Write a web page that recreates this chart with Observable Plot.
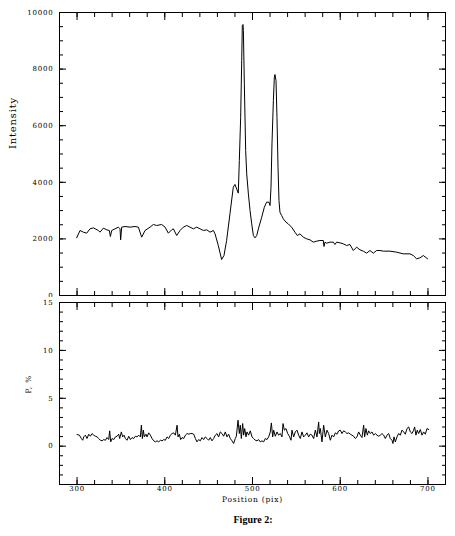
<!DOCTYPE html>
<html>
<head>
<meta charset="utf-8">
<script src="https://cdn.jsdelivr.net/npm/d3@7"></script>
<script src="https://cdn.jsdelivr.net/npm/@observablehq/plot@0.6"></script>
<style>
  body { margin: 0; background: #fff; }
  #wrap { position: relative; width: 455px; height: 536px; background: #fff; overflow: hidden; }
  #top, #bot { position: absolute; left: 0; }
  #top { top: 0; }
  #bot { top: 297px; }
  #cap { position: absolute; top: 514px; left: 203px; width: 100px; text-align: center;
         font-family: "Liberation Serif", "DejaVu Serif", serif; font-weight: bold; font-size: 10px; color: #000; }
  svg text { letter-spacing: 0.8px; }
</style>
</head>
<body>
<div id="wrap">
  <div id="top"></div>
  <div id="bot"></div>
  <div id="cap">Figure 2:</div>
</div>
<script>
// ---- data: upper panel (Intensity vs Position) ----
const intensityPos = [
  299.6,303.4,307.2,311.0,314.8,318.6,324.3,326.2,330.0,333.8,
  336.8,338.0,339.5,343.3,347.1,349.0,349.7,350.9,354.7,360.4,
  366.1,369.9,373.7,377.5,383.2,387.0,390.8,396.5,400.3,404.1,
  407.9,409.8,413.6,417.4,421.2,425.0,428.8,432.6,436.4,440.2,
  444.0,447.8,451.6,455.4,457.3,461.0,464.8,467.5,470.5,474.3,
  478.1,480.0,483.8,485.0,486.5,487.7,488.4,489.2,489.6,490.7,
  492.2,493.4,495.3,497.2,499.1,501.0,502.9,504.8,506.7,510.5,
  513.5,516.0,518.8,520.0,521.1,522.2,523.8,524.9,525.6,526.8,
  527.9,529.1,530.2,531.3,533.2,535.1,538.2,540.8,544.6,548.4,
  551.1,554.1,557.9,561.7,565.5,569.3,573.1,576.9,580.7,581.5,
  582.6,584.5,588.3,592.1,594.0,595.9,599.7,603.5,607.3,611.1,
  614.9,618.7,622.5,626.3,630.1,633.9,637.7,641.5,645.3,649.1,
  656.7,664.3,671.9,679.5,683.3,687.1,690.9,694.7,699.6
];
const intensity = [
  2038,2297,2238,2203,2356,2391,2297,2238,2380,2321,
  2297,2085,2297,2356,2415,2356,1967,2415,2438,2415,
  2438,2415,2061,2297,2415,2509,2474,2509,2415,2203,
  2321,2356,2120,2297,2415,2474,2415,2356,2415,2356,
  2297,2321,2238,2297,2179,1767,1272,1414,1944,2886,
  3828,3923,3616,4770,6301,8304,9541,9576,9364,7479,
  5123,4298,3592,3003,2531,2119,2037,2119,2355,2767,
  3120,3297,3297,3179,3827,5359,6890,7715,7809,7597,
  6301,4534,3356,2944,2826,2708,2590,2531,2413,2237,
  2119,2179,2061,2002,1967,1885,1920,1944,1944,1732,
  1885,1849,1885,1885,1802,1885,1861,1826,1767,1802,
  1590,1708,1614,1567,1496,1590,1496,1590,1590,1567,
  1567,1531,1472,1472,1413,1296,1331,1413,1296
];

// ---- data: lower panel (P, % vs Position) ----
const polPos = [
  300.0,302.7,304.9,306.5,307.6,309.5,311.4,313.3,315.2,317.1,
  319.0,320.9,322.8,324.7,326.6,328.5,330.4,332.3,334.2,336.1,
  337.2,338.4,339.9,341.8,343.7,345.6,347.5,348.6,350.5,352.0,
  353.6,355.1,357.0,358.9,360.8,362.7,364.6,366.5,368.4,370.3,
  372.2,373.3,374.5,375.6,376.7,378.6,379.8,381.7,383.6,385.5,
  387.4,389.3,391.2,393.1,395.0,396.9,398.8,400.7,402.6,404.5,
  406.4,408.3,410.2,412.1,414.0,415.1,416.6,418.1,419.7,421.6,
  423.5,425.4,427.3,429.2,
  431.1,433.0,434.9,436.7,438.6,440.5,442.4,444.3,446.2,448.1,
  450.0,451.9,453.8,455.7,457.6,459.5,461.4,463.3,465.2,467.1,
  469.0,470.9,472.8,474.7,476.6,478.5,480.4,481.6,483.5,485.0,
  486.1,487.3,488.8,489.9,491.1,492.6,493.7,495.6,497.5,499.4,
  501.3,503.2,505.1,507.0,508.9,510.8,512.7,514.6,516.5,518.4,
  520.3,521.5,523.0,524.1,526.0,527.9,529.8,531.7,533.6,534.8,
  536.3,538.2,540.1,542.0,543.9,545.0,546.9,548.8,550.7,552.6,
  554.5,556.4,558.3,560.2,562.1,564.0,565.9,567.8,
  569.7,571.6,573.5,575.4,576.2,577.3,579.2,581.1,583.0,584.9,
  586.8,588.7,590.6,592.5,594.4,596.3,598.2,600.1,602.0,603.9,
  605.8,607.7,609.6,611.5,613.4,615.3,617.2,619.1,621.0,622.9,
  624.8,626.7,627.8,629.3,630.9,632.4,634.3,636.2,638.1,640.0,
  641.9,643.8,645.7,647.6,649.5,651.4,653.3,655.2,657.1,659.0,
  660.1,661.3,662.8,664.7,666.6,668.5,670.4,672.3,674.2,676.1,
  678.0,679.9,681.8,683.7,684.8,686.3,687.8,689.4,691.3,693.2,
  695.1,697.0,698.9,700.8
];
const pol = [
  1.22,1.15,0.80,0.62,0.97,1.15,0.80,1.25,1.04,1.32,
  1.15,1.04,0.97,0.80,0.62,0.56,0.69,0.62,0.90,0.69,
  1.60,0.45,0.80,0.69,0.97,1.04,1.25,0.80,1.49,0.97,
  1.15,0.80,0.62,1.04,0.69,0.90,0.80,1.04,0.97,1.15,
  0.97,2.19,0.80,1.67,0.97,1.25,0.97,1.39,1.15,0.80,
  0.56,0.45,0.56,0.45,0.62,0.56,0.69,0.62,0.97,0.80,
  1.15,1.32,1.39,1.15,2.19,0.97,1.25,0.69,0.90,0.80,
  1.15,1.32,1.25,1.32,
  1.32,1.25,0.80,0.45,0.69,0.56,0.90,0.69,0.97,0.80,
  0.62,0.90,0.56,0.80,1.15,1.32,0.97,1.49,1.32,1.04,
  1.49,0.97,1.25,0.80,0.56,0.28,0.80,1.04,2.71,1.32,
  2.19,0.80,2.36,1.15,1.84,0.97,1.49,1.15,1.60,0.97,
  0.80,0.62,0.56,0.69,0.45,0.56,0.45,0.80,0.69,0.97,
  1.49,2.43,0.97,1.67,1.04,1.49,1.15,1.32,0.97,2.36,
  1.67,1.84,1.32,1.04,0.62,1.67,0.97,1.49,1.67,1.15,
  0.80,1.49,0.97,1.15,1.39,0.97,1.25,1.15,
  0.80,1.67,0.97,2.53,1.32,1.84,0.45,2.19,0.97,1.67,
  1.32,0.62,1.15,0.97,1.39,1.25,1.60,1.67,1.32,1.60,
  1.49,1.32,1.39,1.25,1.15,1.04,0.80,0.97,1.49,1.15,
  0.90,2.19,0.97,1.84,1.15,1.60,1.32,1.49,1.15,1.32,
  1.15,1.04,1.15,1.32,1.15,0.80,1.15,1.32,0.80,0.62,
  0.28,0.97,0.45,0.97,1.32,1.15,1.67,1.49,1.25,1.84,
  2.01,1.49,1.32,1.67,2.01,1.15,1.67,1.32,1.74,1.15,
  1.49,1.25,1.84,1.74
];

// ---- axes / ticks ----
const xDomain = [280, 720];
const xMajorTicks = [300, 400, 500, 600, 700];
const xMinorTicks = d3.range(300, 701, 20);
const topYDomain = [0, 10000];
const topYLabels = [0, 2000, 4000, 6000, 8000, 10000];
const topYMinor = d3.range(500, 10000, 500);
const botYDomain = [-4, 15];
const botYLabels = [0, 5, 10, 15];
const botYMinor = d3.range(-3, 15, 1);
const titleTop = "Intensity";
const titleBot = "P, %";
const titleX = "Position (pix)";

const topData = intensityPos.map((p, i) => ({pos: p, val: intensity[i]}));
const botData = polPos.map((p, i) => ({pos: p, val: pol[i]}));

const blank = () => "";
function tickMarks(yLabels, yMinor) {
  const yMajor = yLabels;
  return [
    Plot.axisX(xMinorTicks, {anchor: "bottom", tickSize: -4, tickFormat: blank, label: null}),
    Plot.axisX(xMajorTicks, {anchor: "bottom", tickSize: -7, tickFormat: blank, label: null}),
    Plot.axisX(xMinorTicks, {anchor: "top", tickSize: -4, tickFormat: blank, label: null}),
    Plot.axisX(xMajorTicks, {anchor: "top", tickSize: -7, tickFormat: blank, label: null}),
    Plot.axisY(yMinor, {anchor: "left", tickSize: -4, tickFormat: blank, label: null}),
    Plot.axisY(yMajor, {anchor: "left", tickSize: -7, tickFormat: blank, label: null}),
    Plot.axisY(yMinor, {anchor: "right", tickSize: -4, tickFormat: blank, label: null}),
    Plot.axisY(yMajor, {anchor: "right", tickSize: -7, tickFormat: blank, label: null}),
    Plot.axisY(yLabels, {anchor: "left", tickSize: 0, tickPadding: 6, label: null, fontSize: 7, tickFormat: d => String(d)})
  ];
}

const style = {
  fontFamily: '"DejaVu Serif", "Liberation Serif", serif',
  fontSize: "7px",
  color: "black",
  background: "white",
  overflow: "visible"
};

const topPlot = Plot.plot({
  width: 455, height: 300,
  marginLeft: 59, marginRight: 10, marginTop: 12, marginBottom: 5,
  style,
  x: {domain: xDomain},
  y: {domain: topYDomain},
  marks: [
    ...tickMarks(topYLabels, topYMinor),
    Plot.line(topData, {x: "pos", y: "val", stroke: "black", strokeWidth: 1}),
    Plot.frame({stroke: "black", strokeWidth: 1}),
    Plot.text([titleTop], {text: d => d, frameAnchor: "left", dx: -47, dy: -5, rotate: -90, fontSize: 10, fill: "black"})
  ]
});

const botPlot = Plot.plot({
  width: 455, height: 212,
  marginLeft: 59, marginRight: 10, marginTop: 5, marginBottom: 25,
  style,
  x: {domain: xDomain},
  y: {domain: botYDomain},
  marks: [
    ...tickMarks(botYLabels, botYMinor),
    Plot.axisX(xMajorTicks, {anchor: "bottom", tickSize: 0, tickPadding: 2, label: null, fontSize: 7, tickFormat: d => String(d)}),
    Plot.line(botData, {x: "pos", y: "val", stroke: "black", strokeWidth: 1}),
    Plot.frame({stroke: "black", strokeWidth: 1}),
    Plot.text([titleBot], {text: d => d, frameAnchor: "left", dx: -31, rotate: -90, fontSize: 7.5, fill: "black"}),
    Plot.text([titleX], {text: d => d, frameAnchor: "bottom", dy: 17, fontSize: 7.5, fill: "black"})
  ]
});

document.getElementById("top").appendChild(topPlot);
document.getElementById("bot").appendChild(botPlot);
</script>
</body>
</html>
